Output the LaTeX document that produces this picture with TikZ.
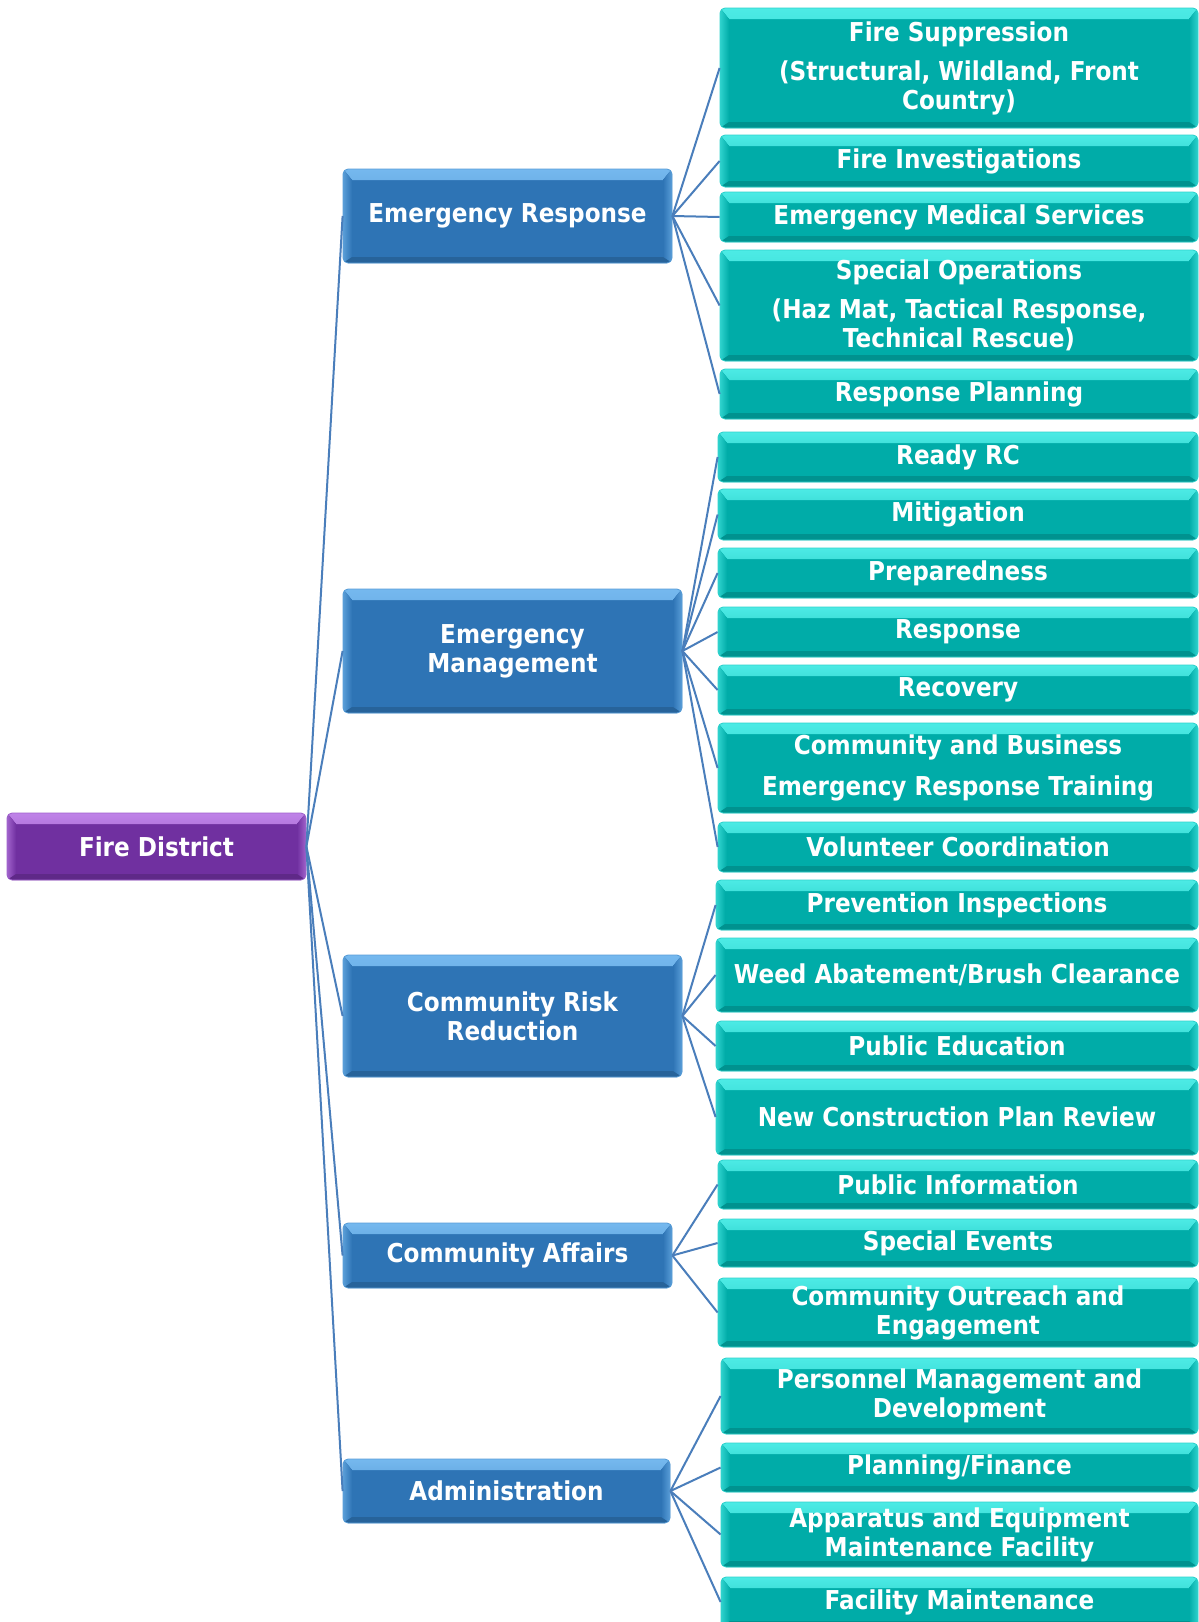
\documentclass[tikz,border=0pt]{standalone}
\usepackage{fontspec}
\setmainfont{DejaVu Sans}[FakeStretch=0.89]
\definecolor{purp}{RGB}{112,48,160}
\definecolor{purpL}{RGB}{200,140,240}
\definecolor{blu}{RGB}{46,116,181}
\definecolor{bluL}{RGB}{125,192,245}
\definecolor{tea}{RGB}{0,172,168}
\definecolor{teaL}{RGB}{85,242,236}
\definecolor{conn}{RGB}{74,126,187}
\tikzset{
 bev/.style 2 args={rounded corners=5pt, fill=#1, draw=#2!55!#1, line width=0.8pt,
  text=white, align=center, inner sep=0pt,
  font=\fontsize{26}{29}\selectfont\bfseries,
  path picture={
   \fill[sharp corners, top color=#2!90!#1, bottom color=#2!25!#1]
     (path picture bounding box.north west) -- (path picture bounding box.north east)
     -- ([xshift=-9pt,yshift=-11pt]path picture bounding box.north east)
     -- ([xshift=9pt,yshift=-11pt]path picture bounding box.north west) -- cycle;
   \fill[sharp corners, left color=#2!55!#1, right color=#1]
     (path picture bounding box.north west) -- ([xshift=9pt,yshift=-11pt]path picture bounding box.north west)
     -- ([xshift=9pt,yshift=6pt]path picture bounding box.south west)
     -- (path picture bounding box.south west) -- cycle;
   \fill[sharp corners, right color=#2!55!#1, left color=#1]
     (path picture bounding box.north east) -- ([xshift=-9pt,yshift=-11pt]path picture bounding box.north east)
     -- ([xshift=-9pt,yshift=6pt]path picture bounding box.south east)
     -- (path picture bounding box.south east) -- cycle;
   \fill[sharp corners, #1!85!black]
     (path picture bounding box.south west) -- (path picture bounding box.south east)
     -- ([xshift=-9pt,yshift=6pt]path picture bounding box.south east)
     -- ([xshift=9pt,yshift=6pt]path picture bounding box.south west) -- cycle;
  }},
 lvlone/.style={bev={purp}{purpL}},
 lvltwo/.style={bev={blu}{bluL}},
 lvlthree/.style={bev={tea}{teaL}},
 link/.style={draw=conn, line width=2pt},
}
\newcommand\bx[7]{%
 \pgfmathsetmacro\bxw{#5-#3}\pgfmathsetmacro\bxh{#6-#4}%
 \pgfmathsetmacro\bxx{(#3+#5)/2}\pgfmathsetmacro\bxy{(#4+#6)/2}%
 \node[#2, minimum width=\bxw pt, minimum height=\bxh pt] (#1) at (\bxx,\bxy) {#7};}
\begin{document}
\begin{tikzpicture}[x=1pt,y=-1pt]
\clip (0,0) rectangle (1199,1622);
\fill[white] (0,0) rectangle (1199,1622);
% level 1
\bx{fd}{lvlone}{7}{813}{306}{880}{Fire District}
% level 2
\bx{er}{lvltwo}{343}{169}{672}{263}{Emergency Response}
\bx{em}{lvltwo}{343}{589}{682}{713}{Emergency\\Management}
\bx{crr}{lvltwo}{343}{955}{682}{1077}{Community Risk\\Reduction}
\bx{ca}{lvltwo}{343}{1223}{672}{1288}{Community Affairs}
\bx{ad}{lvltwo}{343}{1459}{670}{1523}{Administration}
% level 3: emergency response
\bx{fs}{lvlthree}{720}{8}{1198}{128}{Fire Suppression\\[10pt](Structural, Wildland, Front\\Country)}
\bx{fi}{lvlthree}{720}{135}{1198}{187}{Fire Investigations}
\bx{ems}{lvlthree}{720}{192}{1198}{242}{Emergency Medical Services}
\bx{so}{lvlthree}{720}{250}{1198}{361}{Special Operations\\[10pt](Haz Mat, Tactical Response,\\Technical Rescue)}
\bx{rp}{lvlthree}{720}{369}{1198}{419}{Response Planning}
% emergency management
\bx{rrc}{lvlthree}{718}{432}{1198}{482}{Ready RC}
\bx{mit}{lvlthree}{718}{489}{1198}{540}{Mitigation}
\bx{prep}{lvlthree}{718}{548}{1198}{598}{Preparedness}
\bx{resp}{lvlthree}{718}{607}{1198}{657}{Response}
\bx{rec}{lvlthree}{718}{665}{1198}{715}{Recovery}
\bx{cbert}{lvlthree}{718}{723}{1198}{813}{Community and Business\\[12pt]Emergency Response Training}
\bx{vol}{lvlthree}{718}{822}{1198}{872}{Volunteer Coordination}
% community risk reduction
\bx{pi}{lvlthree}{716}{880}{1198}{930}{Prevention Inspections}
\bx{weed}{lvlthree}{716}{938}{1198}{1012}{Weed Abatement/Brush Clearance}
\bx{pe}{lvlthree}{716}{1021}{1198}{1071}{Public Education}
\bx{ncpr}{lvlthree}{716}{1079}{1198}{1155}{New Construction Plan Review}
% community affairs
\bx{pinfo}{lvlthree}{718}{1160}{1198}{1209}{Public Information}
\bx{se}{lvlthree}{718}{1219}{1198}{1267}{Special Events}
\bx{coe}{lvlthree}{718}{1278}{1198}{1347}{Community Outreach and\\Engagement}
% administration
\bx{pm}{lvlthree}{721}{1358}{1198}{1434}{Personnel Management and\\Development}
\bx{pf}{lvlthree}{721}{1443}{1198}{1492}{Planning/Finance}
\bx{aemf}{lvlthree}{721}{1502}{1198}{1567}{Apparatus and Equipment\\Maintenance Facility}
\bx{fm}{lvlthree}{721}{1577}{1198}{1627}{Facility Maintenance}
% connectors
\foreach \c in {er,em,crr,ca,ad} \draw[link] (fd.east) -- (\c.west);
\foreach \c in {fs,fi,ems,so,rp} \draw[link] (er.east) -- (\c.west);
\foreach \c in {rrc,mit,prep,resp,rec,cbert,vol} \draw[link] (em.east) -- (\c.west);
\foreach \c in {pi,weed,pe,ncpr} \draw[link] (crr.east) -- (\c.west);
\foreach \c in {pinfo,se,coe} \draw[link] (ca.east) -- (\c.west);
\foreach \c in {pm,pf,aemf,fm} \draw[link] (ad.east) -- (\c.west);
\end{tikzpicture}
\end{document}
